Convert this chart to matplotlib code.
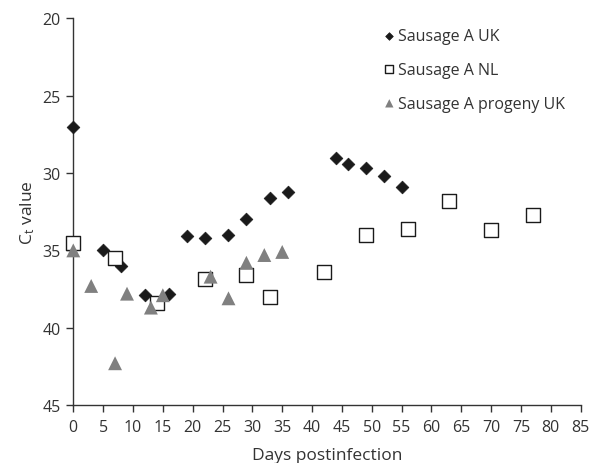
import matplotlib.pyplot as plt

plt.rcParams['font.family'] = ['Open Sans', 'DejaVu Sans']
plt.rcParams['mathtext.fontset'] = 'custom'
plt.rcParams['mathtext.rm'] = 'Open Sans'
plt.rcParams['mathtext.it'] = 'Open Sans'

# Sausage A UK
uk_days = [0, 5, 8, 12, 16, 19, 22, 26, 29, 33, 36, 44, 46, 49, 52, 55]
uk_ct = [27.0, 35.0, 36.0, 37.9, 37.8, 34.1, 34.2, 34.0, 33.0, 31.6, 31.2,
         29.0, 29.4, 29.7, 30.2, 30.9]

# Sausage A NL
nl_days = [0, 7, 14, 22, 29, 33, 42, 49, 56, 63, 70, 77]
nl_ct = [34.5, 35.5, 38.4, 36.85, 36.6, 38.0, 36.4, 34.0, 33.6, 31.8, 33.7, 32.7]

# Sausage A progeny UK
pr_days = [0, 3, 7, 9, 13, 15, 23, 26, 29, 32, 35]
pr_ct = [35.0, 37.3, 42.3, 37.8, 38.7, 37.9, 36.7, 38.1, 35.8, 35.3, 35.1]

x_ticks = list(range(0, 90, 5))
y_ticks = [20, 25, 30, 35, 40, 45]

fig = plt.figure(figsize=(5.91, 4.64), dpi=100)
ax = fig.add_axes([0.124, 0.125, 0.8586, 0.833])

ax.scatter(uk_days, uk_ct, marker='D', s=42, color='#1a1a1a',
           edgecolors='#1a1a1a', linewidths=0.5, label='Sausage A UK',
           zorder=3, clip_on=False)
ax.scatter(nl_days, nl_ct, marker='s', s=95, facecolors='white',
           edgecolors='#1a1a1a', linewidths=1.0, label='Sausage A NL',
           zorder=3, clip_on=False)
ax.scatter(pr_days, pr_ct, marker='^', s=100, color='#808080',
           edgecolors='none', label='Sausage A progeny UK',
           zorder=3, clip_on=False)

ax.set_xlim(0, 85)
ax.set_ylim(45, 20)
ax.set_xticks(x_ticks)
ax.set_yticks(y_ticks)

for side in ['top', 'right']:
    ax.spines[side].set_visible(False)
for side in ['left', 'bottom']:
    ax.spines[side].set_color('#333333')
    ax.spines[side].set_linewidth(1.0)

ax.tick_params(axis='both', direction='out', length=5, width=1.0,
               color='#333333', labelsize=11.5, labelcolor='#333333')
ax.tick_params(axis='x', pad=5)
ax.tick_params(axis='y', pad=4)

ax.set_xlabel('Days postinfection', fontsize=12.5, color='#333333', labelpad=9)
ax.set_ylabel('$\\mathregular{C_t}$ value', fontsize=12.5, color='#333333', labelpad=4)

leg = ax.legend(loc='upper left', bbox_to_anchor=(0.585, 1.005), frameon=False,
                fontsize=11.5, handletextpad=0.05, labelspacing=1.12,
                handlelength=1.0, borderaxespad=0.3, markerscale=0.6)
for t in leg.get_texts():
    t.set_color('#333333')

fig.savefig('out.png', dpi=100)
